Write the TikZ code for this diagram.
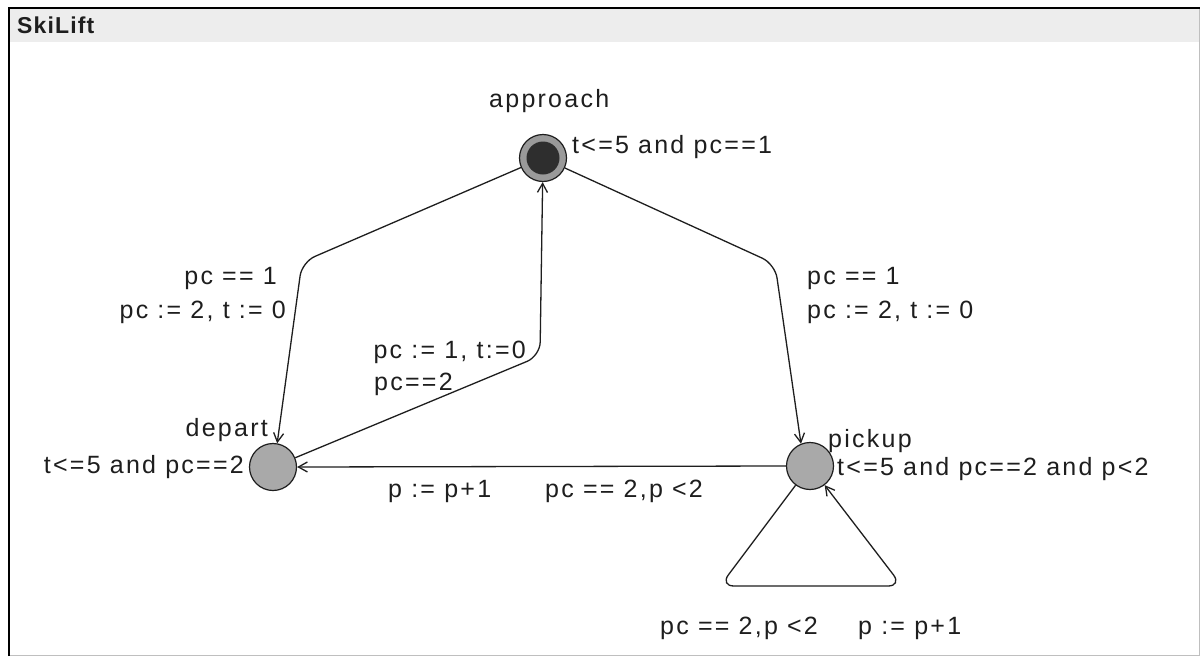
\documentclass[tikz,border=0pt]{standalone}
\usepackage{fontspec}
\setmainfont{Liberation Sans}
\newfontfamily\lblfont[LetterSpace=9]{Liberation Sans}
\newfontfamily\ttlfont[LetterSpace=5]{Liberation Sans}
\usetikzlibrary{arrows.meta}
\definecolor{locgray}{HTML}{A9A9A9}
\definecolor{ringgray}{HTML}{9A9A9A}
\definecolor{darkloc}{HTML}{2E2E2E}
\definecolor{barbg}{HTML}{EDEDED}
\definecolor{inkc}{HTML}{1E1E1E}
\begin{document}
\begin{tikzpicture}[x=1pt,y=-1pt,
  loc/.style={circle, draw=inkc, line width=1.2pt, fill=locgray, minimum size=47pt, inner sep=0pt},
  lbl/.style={font=\lblfont\fontsize{25}{29}\selectfont, inner sep=0pt, text=inkc},
  trans/.style={draw=inkc, line width=1.3pt, rounded corners=14pt, -{Straight Barb[length=9pt,width=10pt]}}]
\useasboundingbox (0,0) rectangle (1202,656);
\fill[white] (0,0) rectangle (1202,656);
\fill[barbg] (10,9) rectangle (1199,42);
\draw[black!25, line width=1pt] (1199,8) -- (1199,655) -- (9,655);
\draw[black, line width=2.5pt] (9,656) -- (9,8) -- (1200,8);
\node[anchor=west, inner sep=0pt, text=inkc, font=\ttlfont\bfseries\fontsize{23}{27}\selectfont] (title) at (17,25) {SkiLift};

% locations
\node[loc, fill=ringgray] (approach) at (543,158) {};
\fill[darkloc] (approach.center) circle (16.5);
\node[loc] (depart) at (273,467) {};
\node[loc] (pickup) at (810,466) {};

% location labels
\node[lbl, anchor=west] (approachname) at (489,101) {approach};
\node[lbl, anchor=west] (approachinv) at (572,147) {t<=5 and pc==1};
\node[lbl, anchor=east] (departname) at (268,430) {depart};
\node[lbl, anchor=east] (departinv) at (244,467) {t<=5 and pc==2};
\node[lbl, anchor=west] (pickupname) at (828,441) {pickup};
\node[lbl, anchor=west] (pickupinv) at (837,469) {t<=5 and pc==2 and p<2};

% transitions
\draw[trans] (approach) -- (302,262) -- (depart.80);
\draw[trans] (depart) -- (540,356) -- (approach);
\draw[trans] (approach) -- (775,264) -- (pickup.112);
\draw[trans] (pickup.west) -- (depart.east);
\draw[trans] (pickup) -- (720,586) -- (902,586) -- (pickup);

% transition labels
\node[lbl, anchor=east] (g1) at (277,278) {pc == 1};
\node[lbl, anchor=east] (a1) at (286,312) {pc := 2, t := 0};
\node[lbl, anchor=east] (a2) at (526,352) {pc := 1, t:=0};
\node[lbl, anchor=west] (g2) at (374,384) {pc==2};
\node[lbl, anchor=west] (g3) at (807,278) {pc == 1};
\node[lbl, anchor=west] (a3) at (807,312) {pc := 2, t := 0};
\node[lbl, anchor=west] (a4) at (388,491) {p := p+1};
\node[lbl, anchor=west] (g4) at (545,491) {pc == 2,p <2};
\node[lbl, anchor=west] (g5) at (660,628) {pc == 2,p <2};
\node[lbl, anchor=west] (a5) at (858,628) {p := p+1};
\end{tikzpicture}
\end{document}
